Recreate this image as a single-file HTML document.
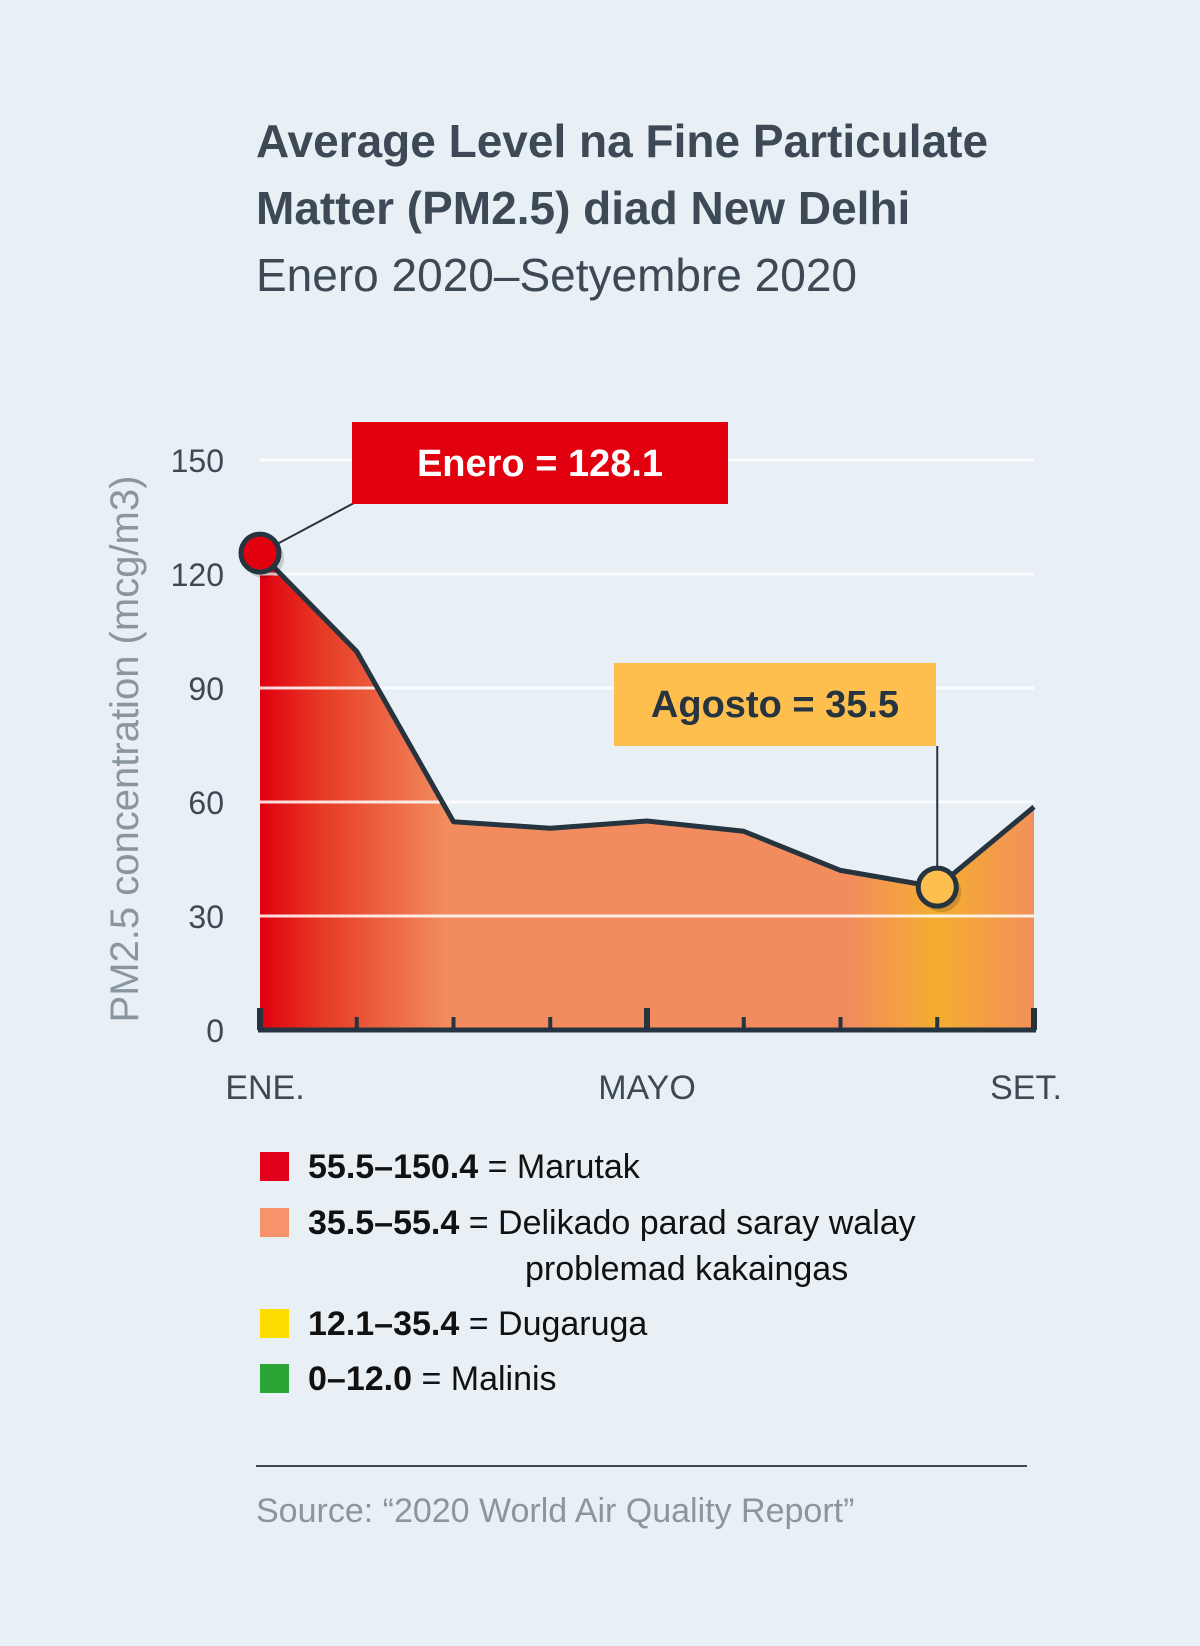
<!DOCTYPE html>
<html><head><meta charset="utf-8"><style>
body{margin:0;background:#e8f0f5;}
svg{display:block}
.t{font-family:"Liberation Sans",sans-serif;}
.n{font-family:"Liberation Sans Narrow","Liberation Sans",sans-serif;}
</style></head><body>
<svg width="1200" height="1646" viewBox="0 0 1200 1646">
<rect width="1200" height="1646" fill="#e8f0f5"/>
<text class="t" x="256" y="157" font-size="46" font-weight="bold" fill="#3d4a55">Average Level na Fine Particulate</text>
<text class="t" x="256" y="224" font-size="46" font-weight="bold" fill="#3d4a55">Matter (PM2.5) diad New Delhi</text>
<text class="t" x="256" y="291" font-size="46" fill="#3d4a55">Enero 2020–Setyembre 2020</text>
<defs>
<linearGradient id="g" x1="260" x2="1034" y1="0" y2="0" gradientUnits="userSpaceOnUse">
<stop offset="0" stop-color="#e00010"/>
<stop offset="0.08" stop-color="#e63a24"/>
<stop offset="0.24" stop-color="#f28c5e"/>
<stop offset="0.76" stop-color="#f28c5e"/>
<stop offset="0.875" stop-color="#f5ad30"/>
<stop offset="1" stop-color="#f2905a"/>
</linearGradient>
</defs>
<g id="plot"></g>
<g id="legend">
<rect x="260" y="1152" width="29" height="29" fill="#e2001a"/>
<text class="t" x="308" y="1178" font-size="34" fill="#111"><tspan font-weight="bold">55.5–150.4</tspan> = Marutak</text>
<rect x="260" y="1208" width="29" height="29" fill="#f7936a"/>
<text class="t" x="308" y="1234" font-size="34" fill="#111"><tspan font-weight="bold">35.5–55.4</tspan> = Delikado parad saray walay</text>
<text class="t" x="525" y="1280" font-size="34" fill="#111">problemad kakaingas</text>
<rect x="260" y="1309" width="29" height="29" fill="#fddc00"/>
<text class="t" x="308" y="1335" font-size="34" fill="#111"><tspan font-weight="bold">12.1–35.4</tspan> = Dugaruga</text>
<rect x="260" y="1364" width="29" height="29" fill="#2ca537"/>
<text class="t" x="308" y="1390" font-size="34" fill="#111"><tspan font-weight="bold">0–12.0</tspan> = Malinis</text>
</g>
<line x1="256" x2="1027" y1="1466" y2="1466" stroke="#3d4a55" stroke-width="2"/>
<text class="t" x="256" y="1522" font-size="34" fill="#8a969f">Source: “2020 World Air Quality Report”</text>
</svg>
<script>
const months=["ENE.","PEB.","MAR.","ABR.","MAYO","HUN.","HUL.","AGO.","SET."];
const values=[125.5,99.6,54.8,53.1,55,52.3,42,37.6,58.7];
const yTicks=[0,30,60,90,120,150];
const xLabelIdx=[0,4,8];
const NS="http://www.w3.org/2000/svg";
const g=document.getElementById('plot');
const X0=260,X1=1034,Y0=1030,Y1=460,YMAX=150;
const x=i=>X0+(X1-X0)*i/(months.length-1);
const y=v=>Y0-(Y0-Y1)*v/YMAX;
function mk(t,a){const e=document.createElementNS(NS,t);for(const k in a)e.setAttribute(k,a[k]);g.appendChild(e);return e;}
let d=`M${x(0)},${Y0}`;values.forEach((v,i)=>d+=` L${x(i)},${y(v)}`);d+=` L${x(values.length-1)},${Y0}Z`;
let area=mk('path',{d:d,fill:'url(#g)'});


yTicks.forEach(t=>{
 if(t>0){let l=mk('line',{x1:X0,x2:X1,y1:y(t),y2:y(t),stroke:'#ffffff','stroke-width':3,'stroke-opacity':0.85});
 
 }
 let tx=mk('text',{x:224,y:y(t)+12,'font-size':32,fill:'#3d4a55','text-anchor':'end',class:'n'});
 tx.textContent=t;
 
 
});
let pd='';values.forEach((v,i)=>pd+=(i?' L':'M')+x(i)+','+y(v));
let ln=mk('path',{d:pd,fill:'none',stroke:'#25343f','stroke-width':5,'stroke-linejoin':'round'});


let ax=mk('line',{x1:X0-2,x2:X1+2,y1:Y0,y2:Y0,stroke:'#25343f','stroke-width':5});


months.forEach((m,i)=>{
 const big=xLabelIdx.includes(i);
 let tk=mk('line',{x1:x(i),x2:x(i),y1:big?Y0-22:Y0-13,y2:Y0,stroke:'#25343f','stroke-width':big?6:4});
 
 
 if(big){let tl=mk('text',{x:x(i)+(i==0?5:i==8?-8:0),y:1099,'font-size':34,fill:'#3d4a55','text-anchor':'middle',class:'n'});
 tl.textContent=m;
 
 }
});
let yt=mk('text',{x:0,y:0,'font-size':40,fill:'#8a969f','text-anchor':'middle',class:'t',transform:'translate(138,749) rotate(-90)'});
yt.textContent='PM2.5 concentration (mcg/m3)';


const jx=x(0),jy=y(values[0]),ax8=x(7),ay8=y(values[7]);
let l1=mk('line',{x1:354,y1:503,x2:jx,y2:jy,stroke:'#25343f','stroke-width':2});


let b1=mk('rect',{x:352,y:422,width:376,height:82,fill:'#e2000f'});


let t1=mk('text',{x:540,y:476,'font-size':38,'font-weight':'bold',fill:'#fff','text-anchor':'middle',class:'t'});
t1.textContent='Enero = 128.1';


let l2=mk('line',{x1:ax8,y1:746,x2:ax8,y2:ay8,stroke:'#25343f','stroke-width':2});


let b2=mk('rect',{x:614,y:663,width:322,height:83,fill:'#ffbf4f'});


let t2=mk('text',{x:775,y:717,'font-size':38,'font-weight':'bold',fill:'#25343f','text-anchor':'middle',class:'t'});
t2.textContent='Agosto = 35.5';


[[jx,jy,'#e2000f','point-enero'],[ax8,ay8,'#ffbf4f','point-agosto']].forEach(p=>{
 let s=mk('circle',{cx:p[0]+4,cy:p[1]+5,r:20,fill:'#000','fill-opacity':0.15});
 
 
 let c=mk('circle',{cx:p[0],cy:p[1],r:19,fill:p[2],stroke:'#25343f','stroke-width':5});
 
 
});
</script>
</body></html>
